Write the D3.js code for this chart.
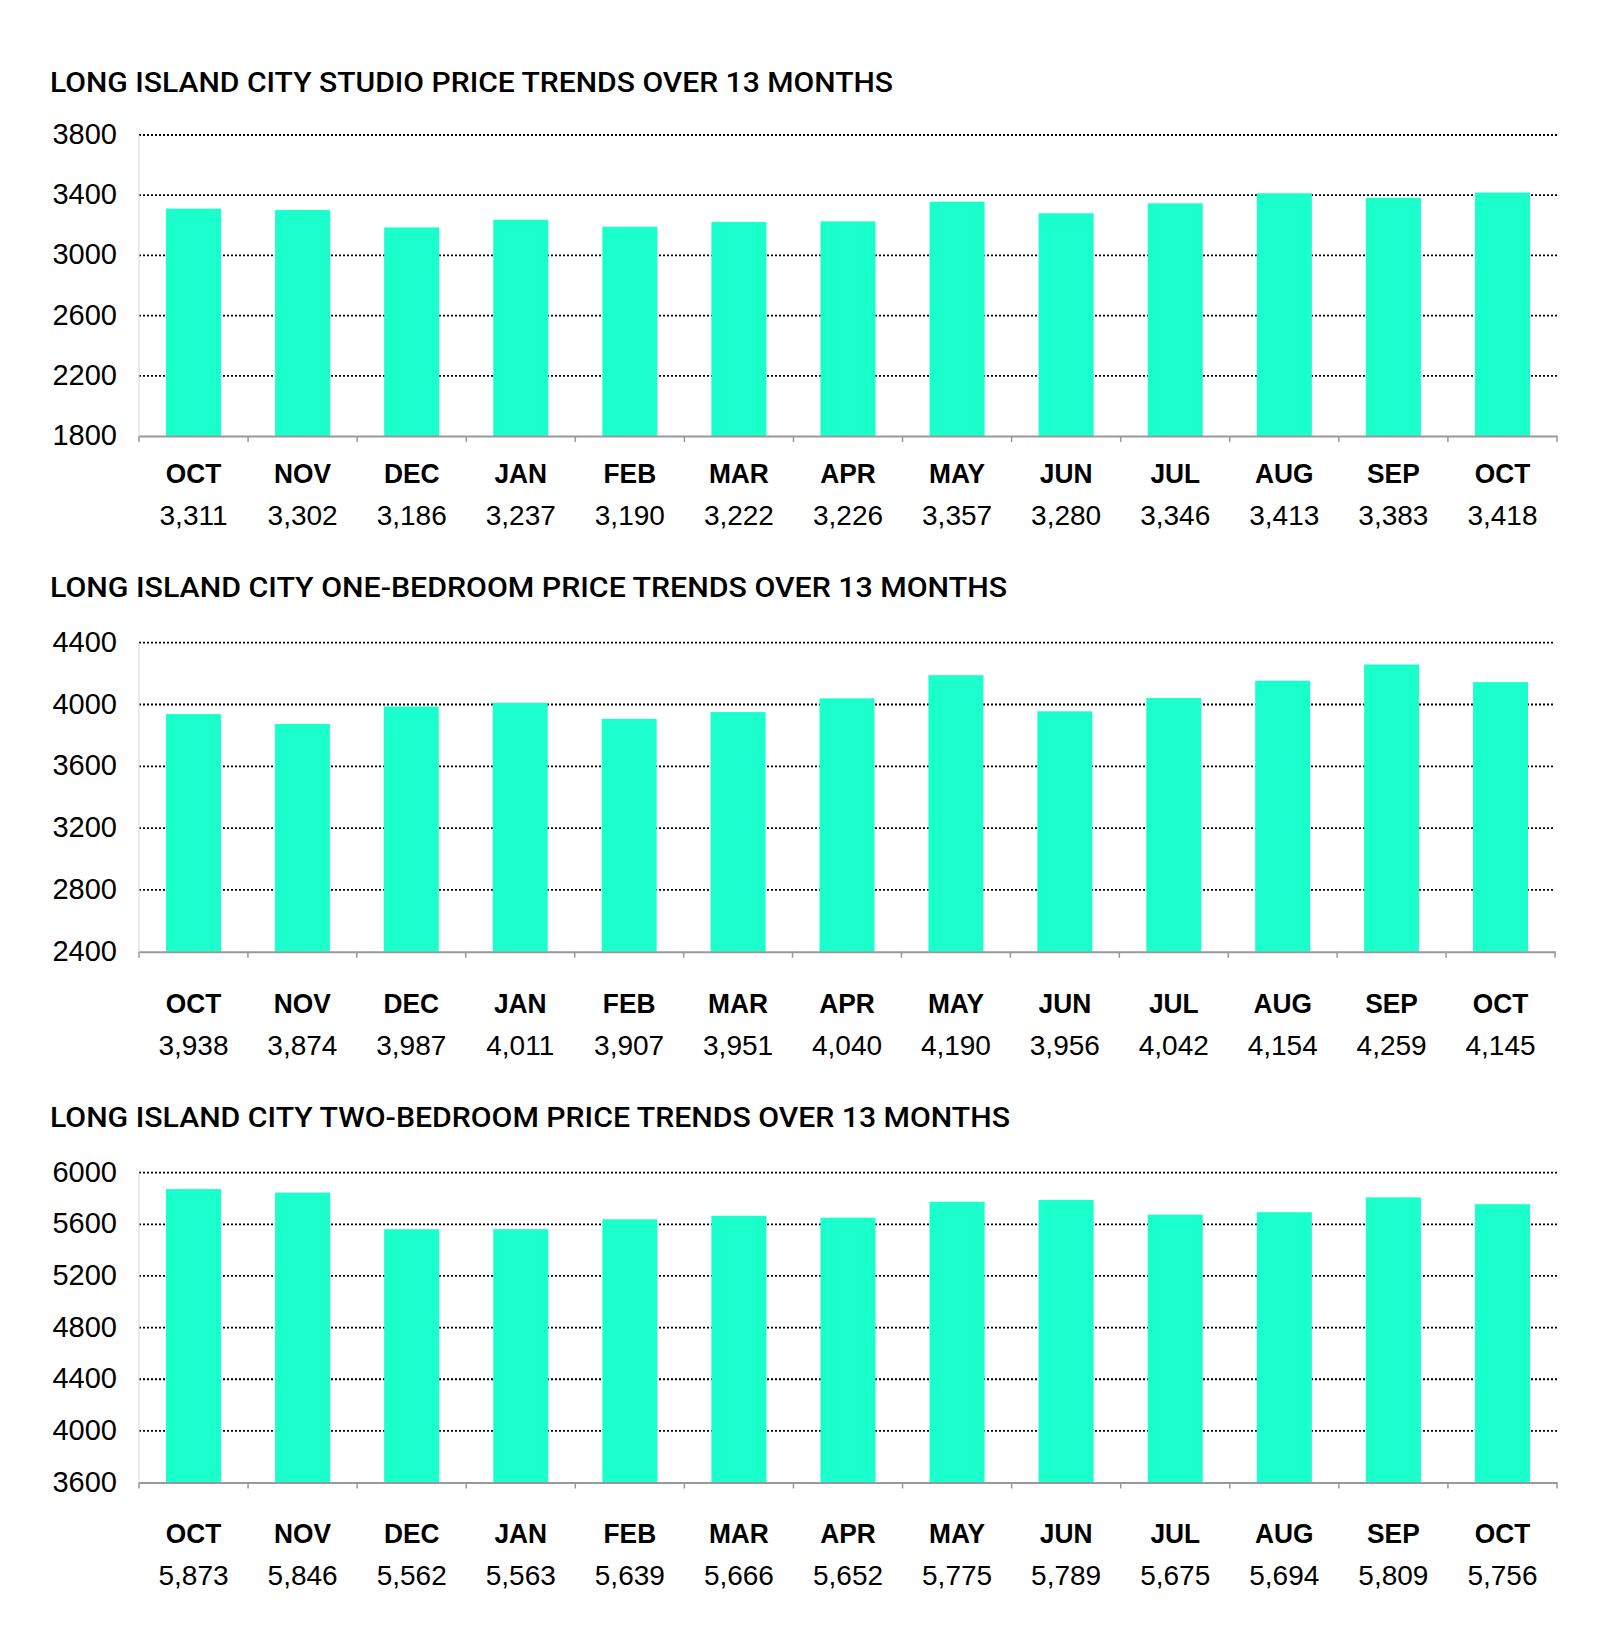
<!DOCTYPE html>
<html>
<head>
<meta charset="utf-8">
<script src="https://cdn.jsdelivr.net/npm/d3@7"></script>
<style>
  html, body { margin: 0; padding: 0; background: #fff; }
  svg { display: block; }
</style>
</head>
<body>
<svg id="chart" width="1600" height="1651"></svg>
<script>
// ---- DATA ----
const months = ["OCT","NOV","DEC","JAN","FEB","MAR","APR","MAY","JUN","JUL","AUG","SEP","OCT"];
const studioValues = [3311, 3302, 3186, 3237, 3190, 3222, 3226, 3357, 3280, 3346, 3413, 3383, 3418];
const oneBedValues = [3938, 3874, 3987, 4011, 3907, 3951, 4040, 4190, 3956, 4042, 4154, 4259, 4145];
const twoBedValues = [5873, 5846, 5562, 5563, 5639, 5666, 5652, 5775, 5789, 5675, 5694, 5809, 5756];
const studioTicks = [1800, 2200, 2600, 3000, 3400, 3800];
const oneBedTicks = [2400, 2800, 3200, 3600, 4000, 4400];
const twoBedTicks = [3600, 4000, 4400, 4800, 5200, 5600, 6000];
const titles = [
  "LONG ISLAND CITY STUDIO PRICE TRENDS OVER 13 MONTHS",
  "LONG ISLAND CITY ONE-BEDROOM PRICE TRENDS OVER 13 MONTHS",
  "LONG ISLAND CITY TWO-BEDROOM PRICE TRENDS OVER 13 MONTHS"
];

// ---- LAYOUT ----
const svg = d3.select("#chart");
const BAR = "#1bffcc";
const TITLE_FONT = "Roboto, 'Liberation Sans', Arial, sans-serif";
const LABEL_FONT = "'Liberation Sans', Arial, sans-serif";
const fmt = d3.format(",");

const panels = [
  { title: titles[0], values: studioValues, ticks: studioTicks, titleY: 92, top: 135, bottom: 436, x0: 139, x1: 1557, monthY: 483, valueY: 525, titleW: 843 },
  { title: titles[1], values: oneBedValues, ticks: oneBedTicks, titleY: 597, top: 642.7, bottom: 951.7, x0: 139, x1: 1555, monthY: 1013, valueY: 1055, titleW: 957 },
  { title: titles[2], values: twoBedValues, ticks: twoBedTicks, titleY: 1127, top: 1172.7, bottom: 1482.5, x0: 139, x1: 1557, monthY: 1543, valueY: 1585, titleW: 960 }
];

panels.forEach((p, pi) => {
  const g = svg.append("g");
  const idx = d3.range(months.length);
  const x = d3.scaleBand().domain(idx).range([p.x0, p.x1]).padding(0);
  const y = d3.scaleLinear().domain([p.ticks[0], p.ticks[p.ticks.length - 1]]).range([p.bottom, p.top]);

  // title
  g.append("text")
    .attr("x", 50).attr("y", p.titleY)
    .attr("font-family", TITLE_FONT).attr("font-size", 28).attr("font-weight", 500)
    .attr("fill", "#000")
    .attr("textLength", p.titleW).attr("lengthAdjust", "spacingAndGlyphs")
    .text(p.title);

  // gridlines (dotted), excluding the baseline
  g.append("g").selectAll("line")
    .data(p.ticks.slice(1))
    .join("line")
    .attr("x1", p.x0).attr("x2", p.x1)
    .attr("y1", d => y(d)).attr("y2", d => y(d))
    .attr("stroke", "#000").attr("stroke-width", 1.8)
    .attr("stroke-dasharray", "2,2");

  // left axis line (light)
  g.append("line")
    .attr("x1", p.x0).attr("x2", p.x0)
    .attr("y1", p.top).attr("y2", p.bottom)
    .attr("stroke", "#dcdcdc").attr("stroke-width", 1.2);

  // y tick labels
  g.append("g").selectAll("text")
    .data(p.ticks)
    .join("text")
    .attr("x", 117).attr("y", d => y(d) + 9)
    .attr("text-anchor", "end")
    .attr("font-family", LABEL_FONT).attr("font-size", 29)
    .attr("fill", "#000")
    .text(d => d);

  // bars
  const bw = x.bandwidth() * 0.505;
  g.append("g").selectAll("rect")
    .data(p.values)
    .join("rect")
    .attr("x", (d, i) => x(i) + (x.bandwidth() - bw) / 2)
    .attr("width", bw)
    .attr("y", d => y(d))
    .attr("height", d => y(p.ticks[0]) - y(d))
    .attr("fill", BAR);

  // bottom axis
  const xAxis = d3.axisBottom(x).tickValues([]).tickSize(0).tickSizeOuter(0);
  const axG = g.append("g").attr("transform", `translate(0,${p.bottom})`).call(xAxis);
  axG.select(".domain").attr("stroke", "#999").attr("stroke-width", 2);
  // band boundary tick marks
  const bounds = idx.map(i => x(i)).concat([p.x1]);
  g.append("g").selectAll("line")
    .data(bounds)
    .join("line")
    .attr("x1", d => d).attr("x2", d => d)
    .attr("y1", p.bottom).attr("y2", p.bottom + 6)
    .attr("stroke", "#999").attr("stroke-width", 1.5);

  // month labels
  g.append("g").selectAll("text")
    .data(months)
    .join("text")
    .attr("x", (d, i) => x(i) + x.bandwidth() / 2)
    .attr("y", p.monthY)
    .attr("text-anchor", "middle")
    .attr("font-family", LABEL_FONT).attr("font-size", 28).attr("font-weight", 700)
    .attr("fill", "#000")
    .attr("transform", (d, i) => {
      const cx = x(i) + x.bandwidth() / 2;
      return `translate(${cx},0) scale(0.94,1) translate(${-cx},0)`;
    })
    .text(d => d);

  // value labels
  g.append("g").selectAll("text")
    .data(p.values)
    .join("text")
    .attr("x", (d, i) => x(i) + x.bandwidth() / 2)
    .attr("y", p.valueY)
    .attr("text-anchor", "middle")
    .attr("font-family", LABEL_FONT).attr("font-size", 28)
    .attr("fill", "#000")
    .text(d => fmt(d));
});
</script>
</body>
</html>
